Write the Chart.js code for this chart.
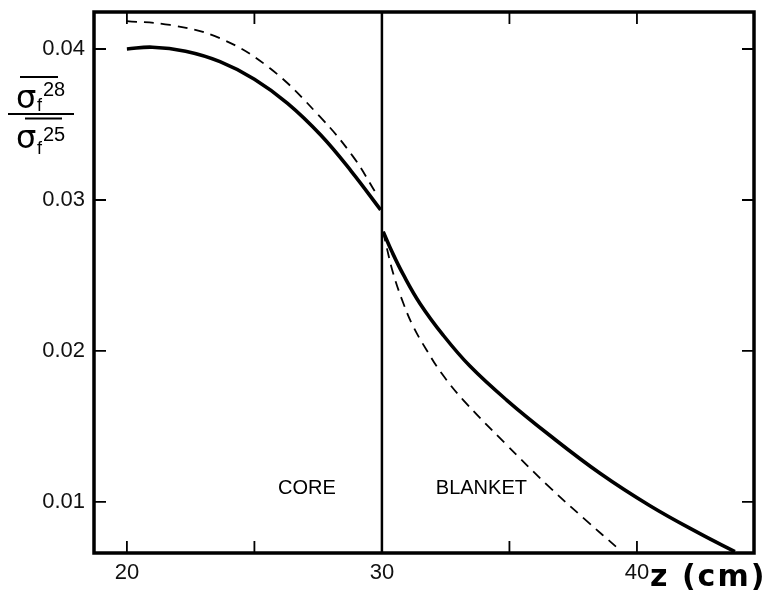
<!DOCTYPE html>
<html>
<head>
<meta charset="utf-8">
<script src="https://cdn.jsdelivr.net/npm/chart.js@4.4.1/dist/chart.umd.min.js"></script>
<style>
  body { margin: 0; background: #fff; }
  #wrap { width: 766px; height: 602px; }
</style>
</head>
<body>
<div id="wrap"><canvas id="chart" width="766" height="602"></canvas></div>
<script>
// z positions (cm) and cross-section ratio values
var solidCoreZ = [20, 21, 22.3, 23.65, 25, 26.3, 27.6, 28.8, 29.95];
var solidCoreY = [0.0400, 0.04012, 0.03985, 0.03916, 0.03800, 0.03640, 0.03430, 0.03190, 0.02935];

var dashedCoreZ = [20, 21.69, 23.65, 25.61, 27.57, 28.87, 29.73, 29.84];
var dashedCoreY = [0.04185, 0.04159, 0.04071, 0.03872, 0.03552, 0.03287, 0.03055, 0.03020];

var solidBlanketZ = [30.05, 30.4, 30.84, 31.49, 32.4, 33.45, 34.89, 36.59, 38.55, 40.51, 42.47, 43.84];
var solidBlanketY = [0.02790, 0.02655, 0.02505, 0.02315, 0.02105, 0.01900, 0.01675, 0.01440, 0.01190, 0.00975, 0.00790, 0.00671];

var dashedBlanketZ = [30.05, 30.18, 30.44, 30.84, 31.23, 31.75, 32.34, 33.19, 34.82, 36.59, 37.96, 39.33];
var dashedBlanketY = [0.02790, 0.02691, 0.02515, 0.02316, 0.02161, 0.02007, 0.01852, 0.01675, 0.01390, 0.01095, 0.00885, 0.00682];

var boundaryZ = 30;

var xTickLabels = [20, 30, 40];
var xTickMarks = [20, 25, 30, 35, 40];
var yTickLabels = [0.01, 0.02, 0.03, 0.04];

var xMin = 18.71, xMax = 44.59;
var yMin = 0.00662, yMax = 0.04245;

function pts(xs, ys) {
    return xs.map(function (x, i) { return { x: x, y: ys[i] }; });
}

var solidStyle = {
    borderColor: '#000',
    borderWidth: 3.6,
    pointRadius: 0,
    tension: 0.4,
    fill: false
};
var dashedStyle = {
    borderColor: '#000',
    borderWidth: 1.8,
    borderDash: [10, 7],
    pointRadius: 0,
    tension: 0.4,
    fill: false
};

var framePlugin = {
    id: 'frame',
    afterDraw: function (chart) {
        var c = chart.ctx, a = chart.chartArea;
        var xs = chart.scales.x, ys = chart.scales.y;
        c.save();
        c.strokeStyle = '#000';
        c.lineWidth = 1.8;
        var tl = 12;
        xTickMarks.forEach(function (v) {
            var px = xs.getPixelForValue(v);
            c.beginPath();
            c.moveTo(px, a.bottom); c.lineTo(px, a.bottom - tl);
            c.moveTo(px, a.top); c.lineTo(px, a.top + tl);
            c.stroke();
        });
        yTickLabels.forEach(function (v) {
            var py = ys.getPixelForValue(v);
            c.beginPath();
            c.moveTo(a.left, py); c.lineTo(a.left + tl, py);
            c.moveTo(a.right, py); c.lineTo(a.right - tl, py);
            c.stroke();
        });
        c.lineWidth = 3.5;
        c.strokeRect(a.left, a.top, a.right - a.left, a.bottom - a.top);

        c.fillStyle = '#000';
        // region labels
        c.font = '20px "Liberation Sans", Arial, sans-serif';
        c.textAlign = 'center';
        c.textBaseline = 'middle';
        c.fillText('CORE', xs.getPixelForValue(27.06), ys.getPixelForValue(0.0109));
        c.fillText('BLANKET', xs.getPixelForValue(33.9), ys.getPixelForValue(0.0109));

        // x axis title
        c.font = 'bold 30px "DejaVu Sans", sans-serif';
        c.textAlign = 'left';
        c.textBaseline = 'alphabetic';
        c.letterSpacing = '2px';
        c.fillText('z (cm)', 650, 586);
        c.letterSpacing = '0px';

        // y axis title: fraction sigma_f^28 / sigma_f^25
        c.font = '32px "DejaVu Sans", sans-serif';
        c.fillText('σ', 16, 108);
        c.fillText('σ', 16, 148);
        c.font = '18px "Liberation Sans", Arial, sans-serif';
        c.fillText('f', 37, 111);
        c.fillText('f', 37, 154);
        c.font = '20px "Liberation Sans", Arial, sans-serif';
        c.fillText('28', 43, 96);
        c.fillText('25', 43, 141);
        c.lineWidth = 2;
        c.beginPath();
        c.moveTo(20, 77); c.lineTo(58, 77);
        c.moveTo(8, 114); c.lineTo(74, 114);
        c.moveTo(25, 118.5); c.lineTo(62, 118.5);
        c.stroke();
        c.restore();
    }
};

new Chart(document.getElementById('chart'), {
    type: 'line',
    data: {
        datasets: [
            Object.assign({ label: 'core', data: pts(solidCoreZ, solidCoreY) }, solidStyle),
            Object.assign({ label: 'core dashed', data: pts(dashedCoreZ, dashedCoreY) }, dashedStyle),
            Object.assign({ label: 'blanket', data: pts(solidBlanketZ, solidBlanketY) }, solidStyle),
            Object.assign({ label: 'blanket dashed', data: pts(dashedBlanketZ, dashedBlanketY) }, dashedStyle),
            {
                label: 'boundary',
                data: [{ x: boundaryZ, y: yMin }, { x: boundaryZ, y: yMax }],
                borderColor: '#000',
                borderWidth: 2.5,
                pointRadius: 0,
                fill: false
            }
        ]
    },
    options: {
        responsive: false,
        animation: false,
        layout: { padding: { top: 12, right: 12, left: 0, bottom: 0 } },
        plugins: {
            legend: { display: false },
            tooltip: { enabled: false }
        },
        scales: {
            x: {
                type: 'linear',
                min: xMin,
                max: xMax,
                grid: { display: false, drawTicks: false },
                border: { display: false },
                afterBuildTicks: function (s) {
                    s.ticks = xTickLabels.map(function (v) { return { value: v }; });
                },
                afterFit: function (s) { s.height = 49; s.paddingLeft = 0; s.paddingRight = 0; },
                ticks: {
                    padding: 7,
                    color: '#111',
                    maxRotation: 0,
                    font: { family: '"Liberation Sans", Arial, sans-serif', size: 22 }
                }
            },
            y: {
                min: yMin,
                max: yMax,
                grid: { display: false, drawTicks: false },
                border: { display: false },
                afterBuildTicks: function (s) {
                    s.ticks = yTickLabels.map(function (v) { return { value: v }; });
                },
                afterFit: function (s) { s.width = 94; s.paddingTop = 0; s.paddingBottom = 0; },
                ticks: {
                    padding: 9,
                    color: '#111',
                    callback: function (v) { return v.toFixed(2); },
                    font: { family: '"Liberation Sans", Arial, sans-serif', size: 22 }
                }
            }
        }
    },
    plugins: [framePlugin]
});
</script>
</body>
</html>
